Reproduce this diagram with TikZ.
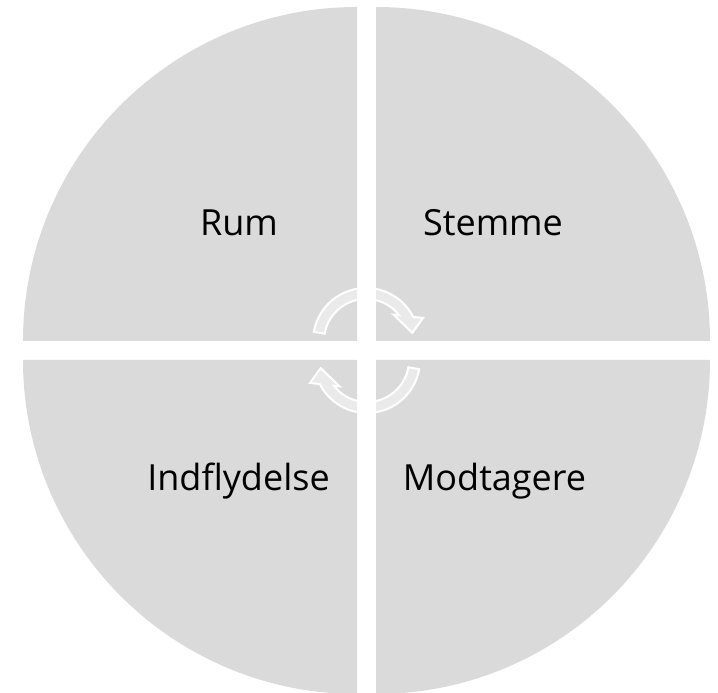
\documentclass[tikz,border=0pt]{standalone}
\usepackage{fontspec}
\setmainfont{Open Sans}
\usetikzlibrary{positioning}
\definecolor{quadgray}{RGB}{218,218,218}

\begin{document}
\begin{tikzpicture}[
    x=1pt, y=1pt,
    quad/.style={fill=quadgray},
    label/.style={font=\fontsize{36}{43}\selectfont, text=black, anchor=base},
    cyclearrow/.style={fill=white, fill opacity=0.45, draw=white, draw opacity=1, line width=2pt, line join=miter}
]
\useasboundingbox (0,0) rectangle (718,693);

% four quarters
\fill[quad] (357,352) -- ++(-334,0) arc[start angle=180, end angle=90, radius=334] -- cycle;
\fill[quad] (376,352) -- ++(0,334) arc[start angle=90, end angle=0, radius=334] -- cycle;
\fill[quad] (357,333) -- ++(0,-334) arc[start angle=270, end angle=180, radius=334] -- cycle;
\fill[quad] (376,333) -- ++(334,0) arc[start angle=0, end angle=-90, radius=334] -- cycle;

\node[label] (rum) at (239,457) {Rum};
\node[label] (stemme) at (493,457) {Stemme};
\node[label] (indflydelse) at (238.5,202) {Indflydelse};
\node[label] (modtagere) at (494.5,202) {Modtagere};

% cycle arrows in the middle
\foreach \cx/\cy/\rot in {366/352/0, 367/333/180} {
  \begin{scope}[shift={(\cx,\cy)}, rotate=\rot]
    \path[cyclearrow] (170:53) arc[start angle=170, end angle=27, radius=53]
      -- (22:61.5) -- (10:47) -- (44:38) -- (38:42)
      arc[start angle=38, end angle=170, radius=42] -- cycle;
  \end{scope}
}

\end{tikzpicture}
\end{document}
